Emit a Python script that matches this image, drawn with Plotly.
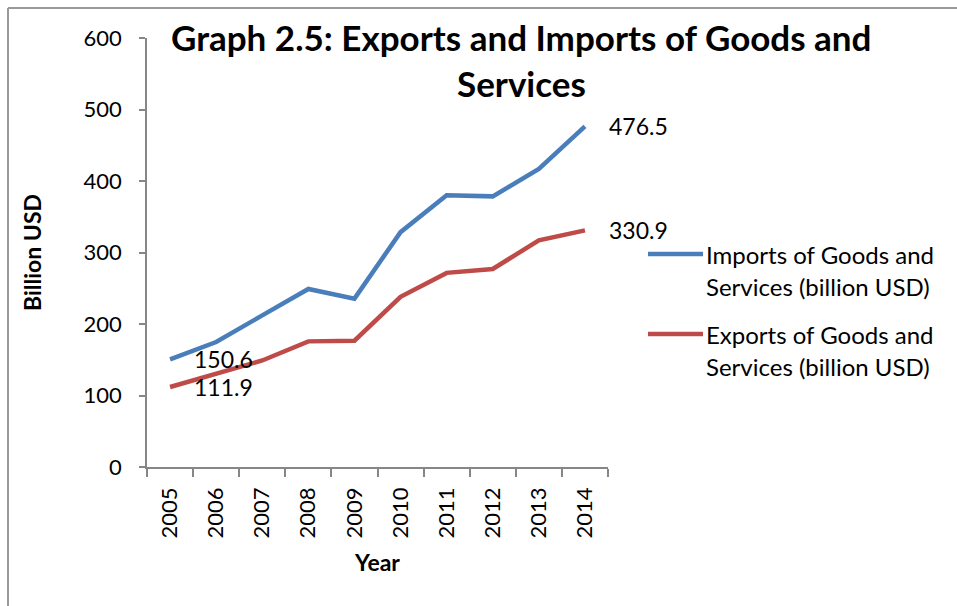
import plotly.graph_objects as go

# Annual trade totals, billion USD
years = [2005, 2006, 2007, 2008, 2009, 2010, 2011, 2012, 2013, 2014]
imports_bn = [150.6, 174.8, 212.0, 249.0, 235.5, 328.5, 380.0, 378.5, 417.0, 476.5]
exports_bn = [111.9, 131.0, 149.0, 175.7, 176.6, 238.0, 271.5, 277.0, 317.0, 330.9]
y_ticks = [0, 100, 200, 300, 400, 500, 600]

imports_name = "Imports of Goods and Services (billion USD)"
exports_name = "Exports of Goods and Services (billion USD)"
title_lines = ["Graph 2.5: Exports and Imports of Goods and", "Services"]

BLUE = "#4A7EBB"
RED = "#BE4B48"
AXIS_GREY = "#868686"
FONT = "Lato"
TICK_SIZE = 22
LABEL_SIZE = 23
LEGEND_SIZE = 24

W, H = 957, 606
L, R, T, B = 147, 608, 38, 467  # plot area in pixels


def px_x(px):
    return (px - L) / (R - L)


def px_y(py):
    return (B - py) / (B - T)


fig = go.Figure()
fig.add_trace(go.Scatter(x=years, y=imports_bn, mode="lines", name=imports_name,
                         line=dict(color=BLUE, width=4.5), showlegend=False))
fig.add_trace(go.Scatter(x=years, y=exports_bn, mode="lines", name=exports_name,
                         line=dict(color=RED, width=4.5), showlegend=False))

annotations = []
# value labels on first and last points
for series in (imports_bn, exports_bn):
    for i in (0, len(years) - 1):
        annotations.append(dict(x=years[i], y=series[i], xref="x", yref="y",
                                text=f"{series[i]:.1f}", showarrow=False,
                                xanchor="left", yanchor="middle", xshift=22,
                                font=dict(family=FONT, size=LABEL_SIZE, color="black")))

# two-line bold heading
for line, ypix in zip(title_lines, (37, 83)):
    annotations.append(dict(x=px_x(521), y=px_y(ypix), xref="paper", yref="paper",
                            text=f"<b>{line}</b>", showarrow=False,
                            xanchor="center", yanchor="middle",
                            font=dict(family=FONT, size=35, color="black")))

# legend drawn beside the plot
shapes = []
legend_rows = [
    (BLUE, 254, ["Imports of Goods and", "Services (billion USD)"]),
    (RED, 334, ["Exports of Goods and", "Services (billion USD)"]),
]
for color, ypix, lines in legend_rows:
    shapes.append(dict(type="line", xref="paper", yref="paper",
                       x0=px_x(648), x1=px_x(703), y0=px_y(ypix), y1=px_y(ypix),
                       line=dict(color=color, width=4.5)))
    for k, line in enumerate(lines):
        annotations.append(dict(x=px_x(704), y=px_y(ypix + 32 * k), xref="paper", yref="paper",
                                text=line, showarrow=False, xanchor="left", yanchor="middle",
                                font=dict(family=FONT, size=LEGEND_SIZE, color="black")))

# outer frame (left and top edges)
shapes.append(dict(type="line", xref="paper", yref="paper",
                   x0=px_x(8), x1=px_x(8), y0=px_y(620), y1=px_y(8),
                   line=dict(color="#9A9A9A", width=2)))
shapes.append(dict(type="line", xref="paper", yref="paper",
                   x0=px_x(8), x1=px_x(970), y0=px_y(8), y1=px_y(8),
                   line=dict(color="#9A9A9A", width=2)))

# tick marks sit on the boundaries between years
boundaries = [y - 0.5 for y in years] + [years[-1] + 0.5]

fig.update_layout(
    width=W, height=H,
    margin=dict(l=L, r=W - R, t=T, b=H - B, pad=0),
    paper_bgcolor="white", plot_bgcolor="white",
    font=dict(family=FONT, size=TICK_SIZE, color="black"),
    annotations=annotations,
    shapes=shapes,
)

fig.update_xaxes(range=[years[0] - 0.5, years[-1] + 0.5], tickvals=years,
                 ticktext=[str(y) for y in years],
                 showline=True, linecolor=AXIS_GREY, linewidth=1.5,
                 ticks="", tickangle=-90, showgrid=False, zeroline=False,
                 ticklabelstandoff=10,
                 minor=dict(tickvals=boundaries, ticks="outside", ticklen=8,
                            tickcolor=AXIS_GREY, tickwidth=1.5, showgrid=False),
                 tickfont=dict(family=FONT, size=TICK_SIZE),
                 title=dict(text="<b>Year</b>", font=dict(family=FONT, size=23), standoff=17))
fig.update_yaxes(range=[0, 600], tickvals=y_ticks, showline=True, linecolor=AXIS_GREY,
                 linewidth=1.5, ticks="outside", ticklen=6, tickcolor=AXIS_GREY, tickwidth=1.5,
                 showgrid=False, zeroline=False, ticklabelstandoff=13,
                 tickfont=dict(family=FONT, size=TICK_SIZE),
                 title=dict(text="<b>Billion USD</b>", font=dict(family=FONT, size=23), standoff=36))

fig.write_html("out.html")
